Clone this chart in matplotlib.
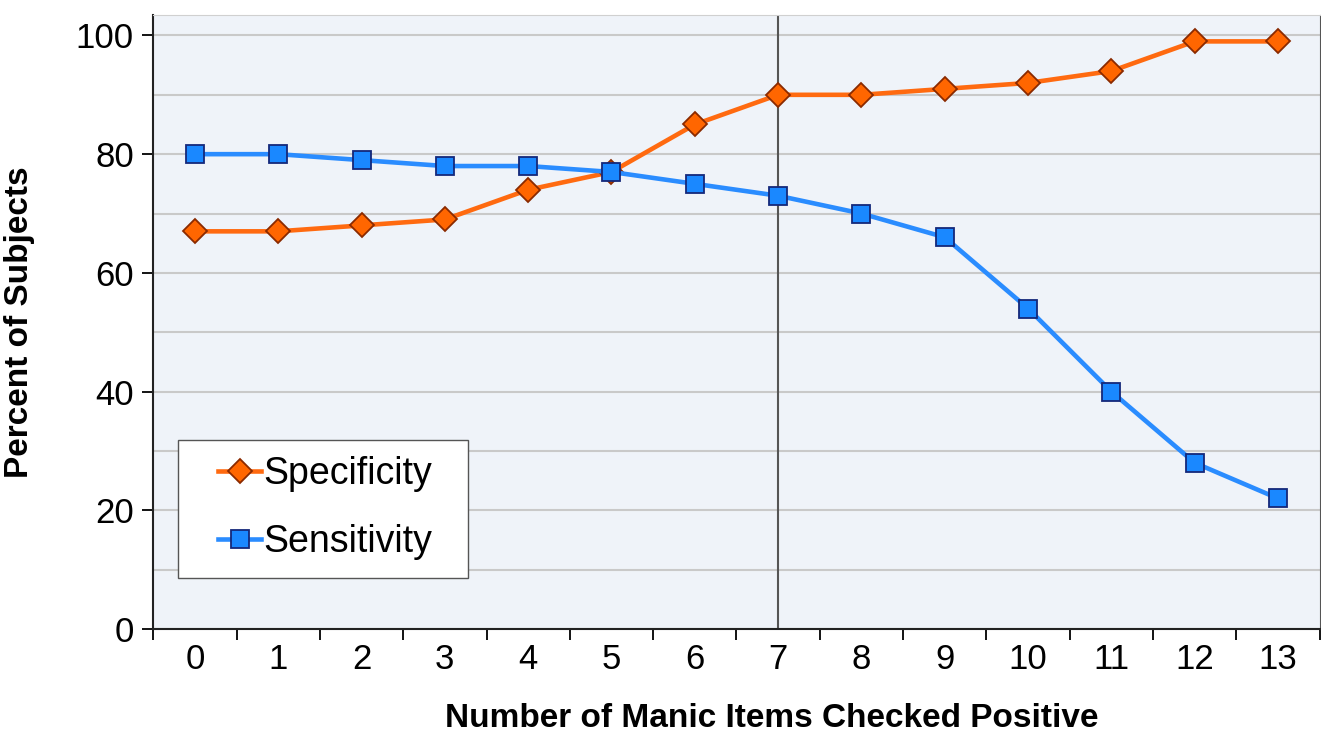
import matplotlib
matplotlib.use("Agg")
import matplotlib.pyplot as plt
from matplotlib.patches import Rectangle
import numpy as np

items = list(range(14))
specificity = [67, 67, 68, 69, 74, 77, 85, 90, 90, 91, 92, 94, 99, 99]
sensitivity = [80, 80, 79, 78, 78, 77, 75, 73, 70, 66, 54, 40, 28, 22]
cutoff = 7

plt.rcParams["font.family"] = ["Liberation Sans", "DejaVu Sans"]

fig = plt.figure(figsize=(13.21, 7.34), dpi=100)
ax = fig.add_axes([0.116, 0.143, 0.883, 0.837])
ax.set_facecolor("#eff3f9")

ax.set_xlim(-0.5, 13.5)
ax.set_ylim(0, 103.5)

ax.set_yticks(np.arange(10, 101, 10), minor=True)
ax.grid(which="both", axis="y", color="#c9c9c9", linewidth=1.5)
ax.set_axisbelow(True)

ax.axvline(cutoff, color="#555555", linewidth=1.5, zorder=2)

ax.plot(items, specificity, color="#ff6a10", linewidth=3.3, marker="D", markersize=12.5,
        markerfacecolor="#ff6600", markeredgecolor="#8a2a00", markeredgewidth=1.3,
        label="Specificity", zorder=3)
ax.plot(items, sensitivity, color="#2a8cff", linewidth=3.3, marker="s", markersize=13,
        markerfacecolor="#1a88ff", markeredgecolor="#14287a", markeredgewidth=1.3,
        label="Sensitivity", zorder=3)

ax.set_xticks(items)
ax.set_xticks(np.arange(-0.5, 13.6, 1), minor=True)
ax.tick_params(axis="x", which="major", length=0, labelsize=25, pad=10)
ax.tick_params(axis="x", which="minor", length=8, width=1.3, direction="out")
ax.set_yticks(np.arange(0, 101, 20))
ax.tick_params(axis="y", which="major", length=8, width=1.3, labelsize=25, pad=6)
ax.tick_params(axis="y", which="minor", length=0)

for side in ("left", "bottom"):
    ax.spines[side].set_linewidth(1.5)
    ax.spines[side].set_color("#222222")
ax.spines["top"].set_color("#d0d0d0")
ax.spines["right"].set_color("#555555")

ax.set_xlabel("Number of Manic Items Checked Positive", fontsize=24, fontweight="bold")
ax.set_ylabel("Percent of Subjects", fontsize=24, fontweight="bold")
ax.xaxis.set_label_coords(0.530, -0.120)
ax.yaxis.set_label_coords(-0.101, 0.5)

ax.add_patch(Rectangle((0.0214, 0.083), 0.2485, 0.225, transform=ax.transAxes,
                       facecolor="white", edgecolor="#555555", linewidth=1.0, zorder=4))
leg = ax.legend(loc="center left", bbox_to_anchor=(0.0557, 0.197), frameon=False,
                fontsize=27, handlelength=1.15, handletextpad=0.05,
                labelspacing=0.85, borderpad=0, borderaxespad=0)
leg.set_zorder(5)

fig.savefig("out.png", dpi=100)
